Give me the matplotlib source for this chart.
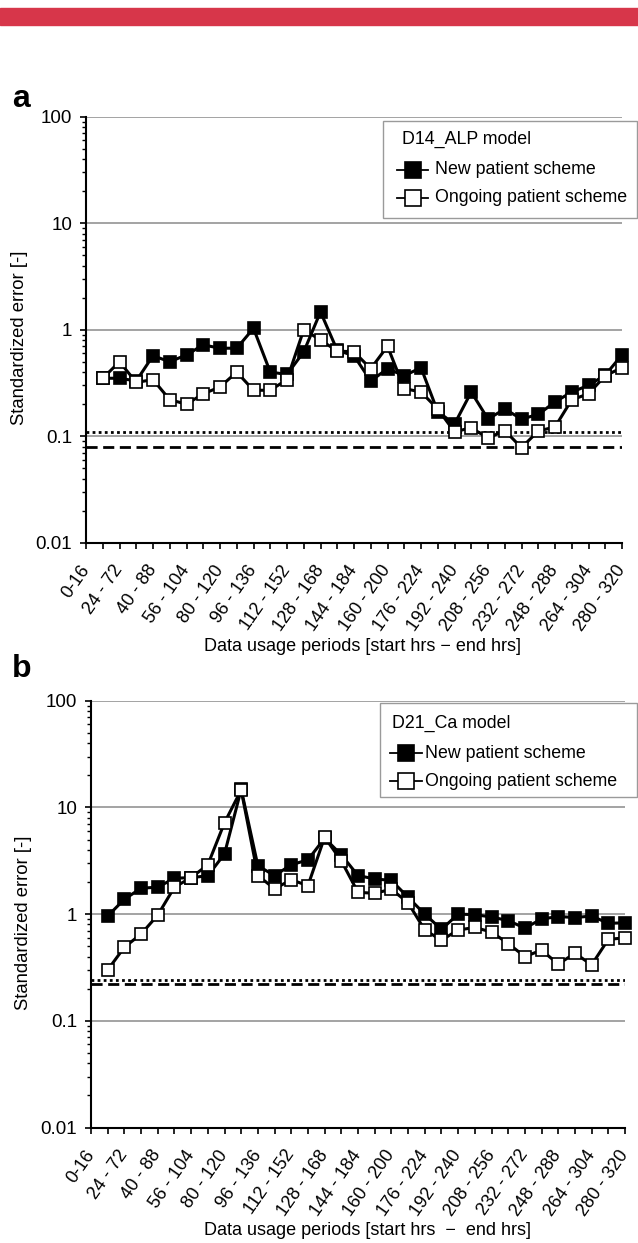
import matplotlib
matplotlib.use('Agg')
import matplotlib.pyplot as plt
import matplotlib.patches as mpatches
from matplotlib.lines import Line2D
import numpy as np

plt.rcParams['font.family'] = ['Liberation Sans', 'DejaVu Sans']

# x categories: 33 slots, labels on every other slot, data from slot 1 on
n_slots = 33
period_labels = ['0-16', '24 - 72', '40 - 88', '56 - 104', '80 - 120', '96 - 136',
                 '112 - 152', '128 - 168', '144 - 184', '160 - 200', '176 - 224',
                 '192 - 240', '208 - 256', '232 - 272', '248 - 288', '264 - 304',
                 '280 - 320']
series_names = ['New patient scheme', 'Ongoing patient scheme']

# panel a: D14_ALP model
new_a = [0.35, 0.35, 0.33, 0.57, 0.50, 0.58, 0.72, 0.67, 0.67, 1.03, 0.40, 0.38,
         0.62, 1.47, 0.64, 0.57, 0.33, 0.43, 0.37, 0.44, 0.17, 0.13, 0.26, 0.145,
         0.18, 0.145, 0.16, 0.21, 0.26, 0.30, 0.375, 0.58]
ongoing_a = [0.35, 0.50, 0.32, 0.34, 0.22, 0.20, 0.25, 0.29, 0.40, 0.27, 0.27, 0.34,
             1.0, 0.80, 0.63, 0.62, 0.43, 0.70, 0.28, 0.26, 0.18, 0.11, 0.12, 0.096,
             0.113, 0.078, 0.112, 0.122, 0.22, 0.25, 0.37, 0.44]
dotted_a = 0.109
dashed_a = 0.079

# panel b: D21_Ca model
new_b = [0.96, 1.38, 1.75, 1.79, 2.17, 2.20, 2.29, 3.67, 14.8, 2.84, 2.30, 2.90,
         3.23, 5.15, 3.6, 2.3, 2.14, 2.07, 1.44, 1.0, 0.72, 1.0, 0.99, 0.94,
         0.87, 0.74, 0.90, 0.95, 0.93, 0.96, 0.82, 0.83]
ongoing_b = [0.30, 0.49, 0.65, 0.98, 1.79, 2.2, 2.9, 7.2, 14.6, 2.3, 1.73, 2.1,
             1.85, 5.27, 3.16, 1.6, 1.57, 1.71, 1.28, 0.71, 0.57, 0.71, 0.75, 0.68,
             0.53, 0.40, 0.46, 0.34, 0.43, 0.335, 0.58, 0.60]
dotted_b = 0.242
dashed_b = 0.221

yticks = [0.01, 0.1, 1, 10, 100]
ytick_labels = ['0.01', '0.1', '1', '10', '100']

W, H = 638, 1243
fig = plt.figure(figsize=(W / 100, H / 100), dpi=100)

# red header band
fig.patches.append(mpatches.Rectangle((0, 1 - 25 / H), 1, 17 / H,
                                      transform=fig.transFigure, color='#d7364a'))


def fx(x):
    return x / W


def fy(y):
    return 1 - y / H


def legend_box(box, title, title_x, title_y, rows_y, h0, h1, text_x):
    x0, y0, x1, y1 = box
    fig.patches.append(mpatches.Rectangle((fx(x0), fy(y1)), (x1 - x0) / W, (y1 - y0) / H,
                                          transform=fig.transFigure, fc='white',
                                          ec='#9a9a9a', lw=1.0, zorder=5))
    fig.text(fx(title_x), fy(title_y), title, fontsize=12.8, va='center', zorder=6)
    for y, name, fc in zip(rows_y, series_names, ['black', 'white']):
        fig.add_artist(Line2D([fx(h0), fx(h1)], [fy(y), fy(y)], transform=fig.transFigure,
                              color='black', lw=1.3, zorder=6))
        fig.add_artist(Line2D([fx((h0 + h1) / 2)], [fy(y)], transform=fig.transFigure,
                              marker='s', ms=11.5, mfc=fc, mec='black', mew=1.2, zorder=7))
        fig.text(fx(text_x), fy(y), name, fontsize=12.8, va='center', zorder=6)


def panel(px, new, ongoing, dotted, dashed, letter, letter_px, xlabel, xlabel_px, ylabel_x):
    left, top, right, bottom = px
    ax = fig.add_axes((fx(left), fy(bottom), (right - left) / W, (bottom - top) / H))
    x = np.arange(1, 1 + len(new))

    ax.set_yscale('log')
    ax.set_ylim(0.01, 100)
    ax.set_xlim(0, n_slots - 1)

    ax.plot(x, new, color='black', lw=2.2, marker='s', ms=8.5, mfc='black',
            mec='black', mew=1.2, clip_on=False, zorder=3)
    ax.plot(x, ongoing, color='black', lw=2.2, marker='s', ms=8.5, mfc='white',
            mec='black', mew=1.2, clip_on=False, zorder=4)
    ax.axhline(dotted, color='black', lw=2.0, ls=(0, (1, 1.2)), zorder=2)
    ax.axhline(dashed, color='black', lw=2.0, ls=(0, (4, 2)), zorder=2)

    ax.set_yticks(yticks)
    ax.set_yticklabels(ytick_labels)
    ax.yaxis.set_minor_locator(matplotlib.ticker.LogLocator(base=10, subs=np.arange(2, 10)))
    ax.yaxis.set_minor_formatter(matplotlib.ticker.NullFormatter())
    ax.yaxis.grid(True, which='major', color='#8a8a8a', lw=1.1)
    ax.set_axisbelow(True)

    ax.set_xticks(np.arange(n_slots))
    xl = [period_labels[i // 2] if i % 2 == 0 else '' for i in range(n_slots)]
    ax.set_xticklabels(xl, rotation=55, ha='right', va='center', rotation_mode='anchor')

    ax.tick_params(axis='y', which='major', direction='out', length=4.5, width=1.2,
                   labelsize=13.5, pad=5.5)
    ax.tick_params(axis='y', which='minor', direction='out', length=3, width=1.0)
    ax.tick_params(axis='x', direction='out', length=4.5, width=1.2, labelsize=13, pad=13)

    for s in ['top', 'right']:
        ax.spines[s].set_visible(False)
    for s in ['left', 'bottom']:
        ax.spines[s].set_linewidth(1.5)

    ax.set_ylabel('Standardized error [-]', fontsize=13.3)
    ax.yaxis.set_label_coords((ylabel_x - left) / (right - left), 0.48)
    ax.set_xlabel(xlabel, fontsize=13, ha='left')
    ax.xaxis.set_label_coords((xlabel_px[0] - left) / (right - left),
                              (bottom - xlabel_px[1]) / (bottom - top))

    fig.text(fx(letter_px[0]), fy(letter_px[1]), letter, fontsize=23,
             fontweight='bold', va='baseline')
    return ax


panel((86, 116.7, 622, 542.7), new_a, ongoing_a, dotted_a, dashed_a,
      'a', (12, 107), 'Data usage periods [start hrs \u2212 end hrs]', (204, 638), 28)
legend_box((383, 120.7, 637, 218), 'D14_ALP model', 401.7, 139, [170, 198], 397, 428, 435)

panel((91, 700.8, 625, 1127.5), new_b, ongoing_b, dotted_b, dashed_b,
      'b', (12, 677), 'Data usage periods [start hrs  \u2212  end hrs]', (204, 1222), 32)
legend_box((380, 703, 637, 797), 'D21_Ca model', 391.7, 723, [753, 781], 390, 421.7, 425)

fig.savefig('out.png', dpi=100)
